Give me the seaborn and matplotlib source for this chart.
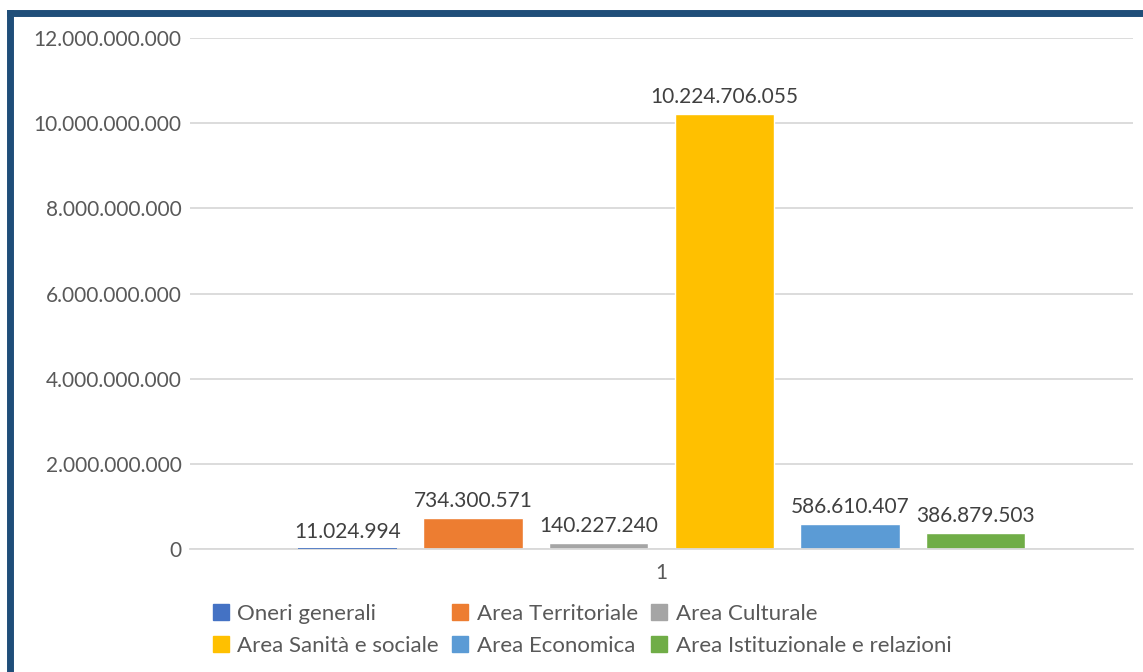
import pandas as pd
import seaborn as sns
import matplotlib.pyplot as plt
from matplotlib.lines import Line2D
from matplotlib.ticker import FuncFormatter

# dati
categoria = ['1']
aree = ['Oneri generali', 'Area Territoriale', 'Area Culturale',
        'Area Sanità e sociale', 'Area Economica', 'Area Istituzionale e relazioni']
valori = [11024994, 734300571, 140227240, 10224706055, 586610407, 386879503]
colori = ['#4472C4', '#ED7D31', '#A5A5A5', '#FFC000', '#5B9BD5', '#70AD47']
y_ticks = [0, 2e9, 4e9, 6e9, 8e9, 10e9, 12e9]

GREY = '#595959'


def fmt_it(v, pos=None):
    # separatore delle migliaia all'italiana
    return '{:,.0f}'.format(v).replace(',', '.')


df = pd.DataFrame({'categoria': categoria * len(aree), 'area': aree, 'valore': valori})

sns.set_theme(style='white')
plt.rcParams['font.family'] = ['Lato', 'DejaVu Sans']

fig = plt.figure(figsize=(11.43, 6.72), dpi=100)
ax = fig.add_axes([190 / 1143, 1 - 549 / 672, (1133 - 190) / 1143, (549 - 38) / 672])

sns.barplot(data=df, x='categoria', y='valore', hue='area', hue_order=aree,
            palette=colori, width=0.8, gap=0.21, saturation=1, ax=ax, legend=False)

ax.set_ylim(0, 12e9)
ax.set_xlim(-0.5, 0.5)
ax.set_yticks(y_ticks)
ax.yaxis.set_major_formatter(FuncFormatter(fmt_it))
ax.grid(axis='y', color='#D9D9D9', linewidth=1.3)
ax.set_axisbelow(True)
for s in ['top', 'right', 'left']:
    ax.spines[s].set_visible(False)
ax.spines['bottom'].set_color('#D9D9D9')
ax.spines['bottom'].set_linewidth(1.3)
ax.tick_params(axis='both', length=0, labelsize=15, colors=GREY, pad=6)
ax.tick_params(axis='x', pad=10)
ax.set_xlabel('')
ax.set_ylabel('')

# la barra "Oneri generali" e' quasi piatta: in Excel resta visibile una linea
for p in ax.containers[0]:
    p.set_edgecolor(colori[0])
    p.set_linewidth(1.2)
    p.set_zorder(3)

for cont in ax.containers:
    ax.bar_label(cont, labels=[fmt_it(v) for v in cont.datavalues],
                 padding=5, fontsize=15, color='#404040')

# legenda su due righe, ordinata per righe come in Excel
handles = [Line2D([], [], marker='s', linestyle='', markersize=11,
                  markerfacecolor=c, markeredgecolor=c) for c in colori]
order = [0, 3, 1, 4, 2, 5]
fig.legend([handles[i] for i in order], [aree[i] for i in order],
           ncol=3, loc='upper left', bbox_to_anchor=(203 / 1143, 1 - 595 / 672),
           frameon=False, fontsize=16, labelcolor=GREY, handlelength=0.8,
           handletextpad=0.35, columnspacing=0.55, labelspacing=0.55, borderaxespad=0)

# cornice blu (solo sinistra e alto visibili)
fig.add_artist(Line2D([9.5 / 1143, 9.5 / 1143], [0, 1 - 12.5 / 672],
                      transform=fig.transFigure, color='#1F4E79', linewidth=5,
                      solid_capstyle='projecting'))
fig.add_artist(Line2D([9.5 / 1143, 1], [1 - 12.5 / 672, 1 - 12.5 / 672],
                      transform=fig.transFigure, color='#1F4E79', linewidth=5,
                      solid_capstyle='projecting'))

fig.savefig('out.png', dpi=100)
